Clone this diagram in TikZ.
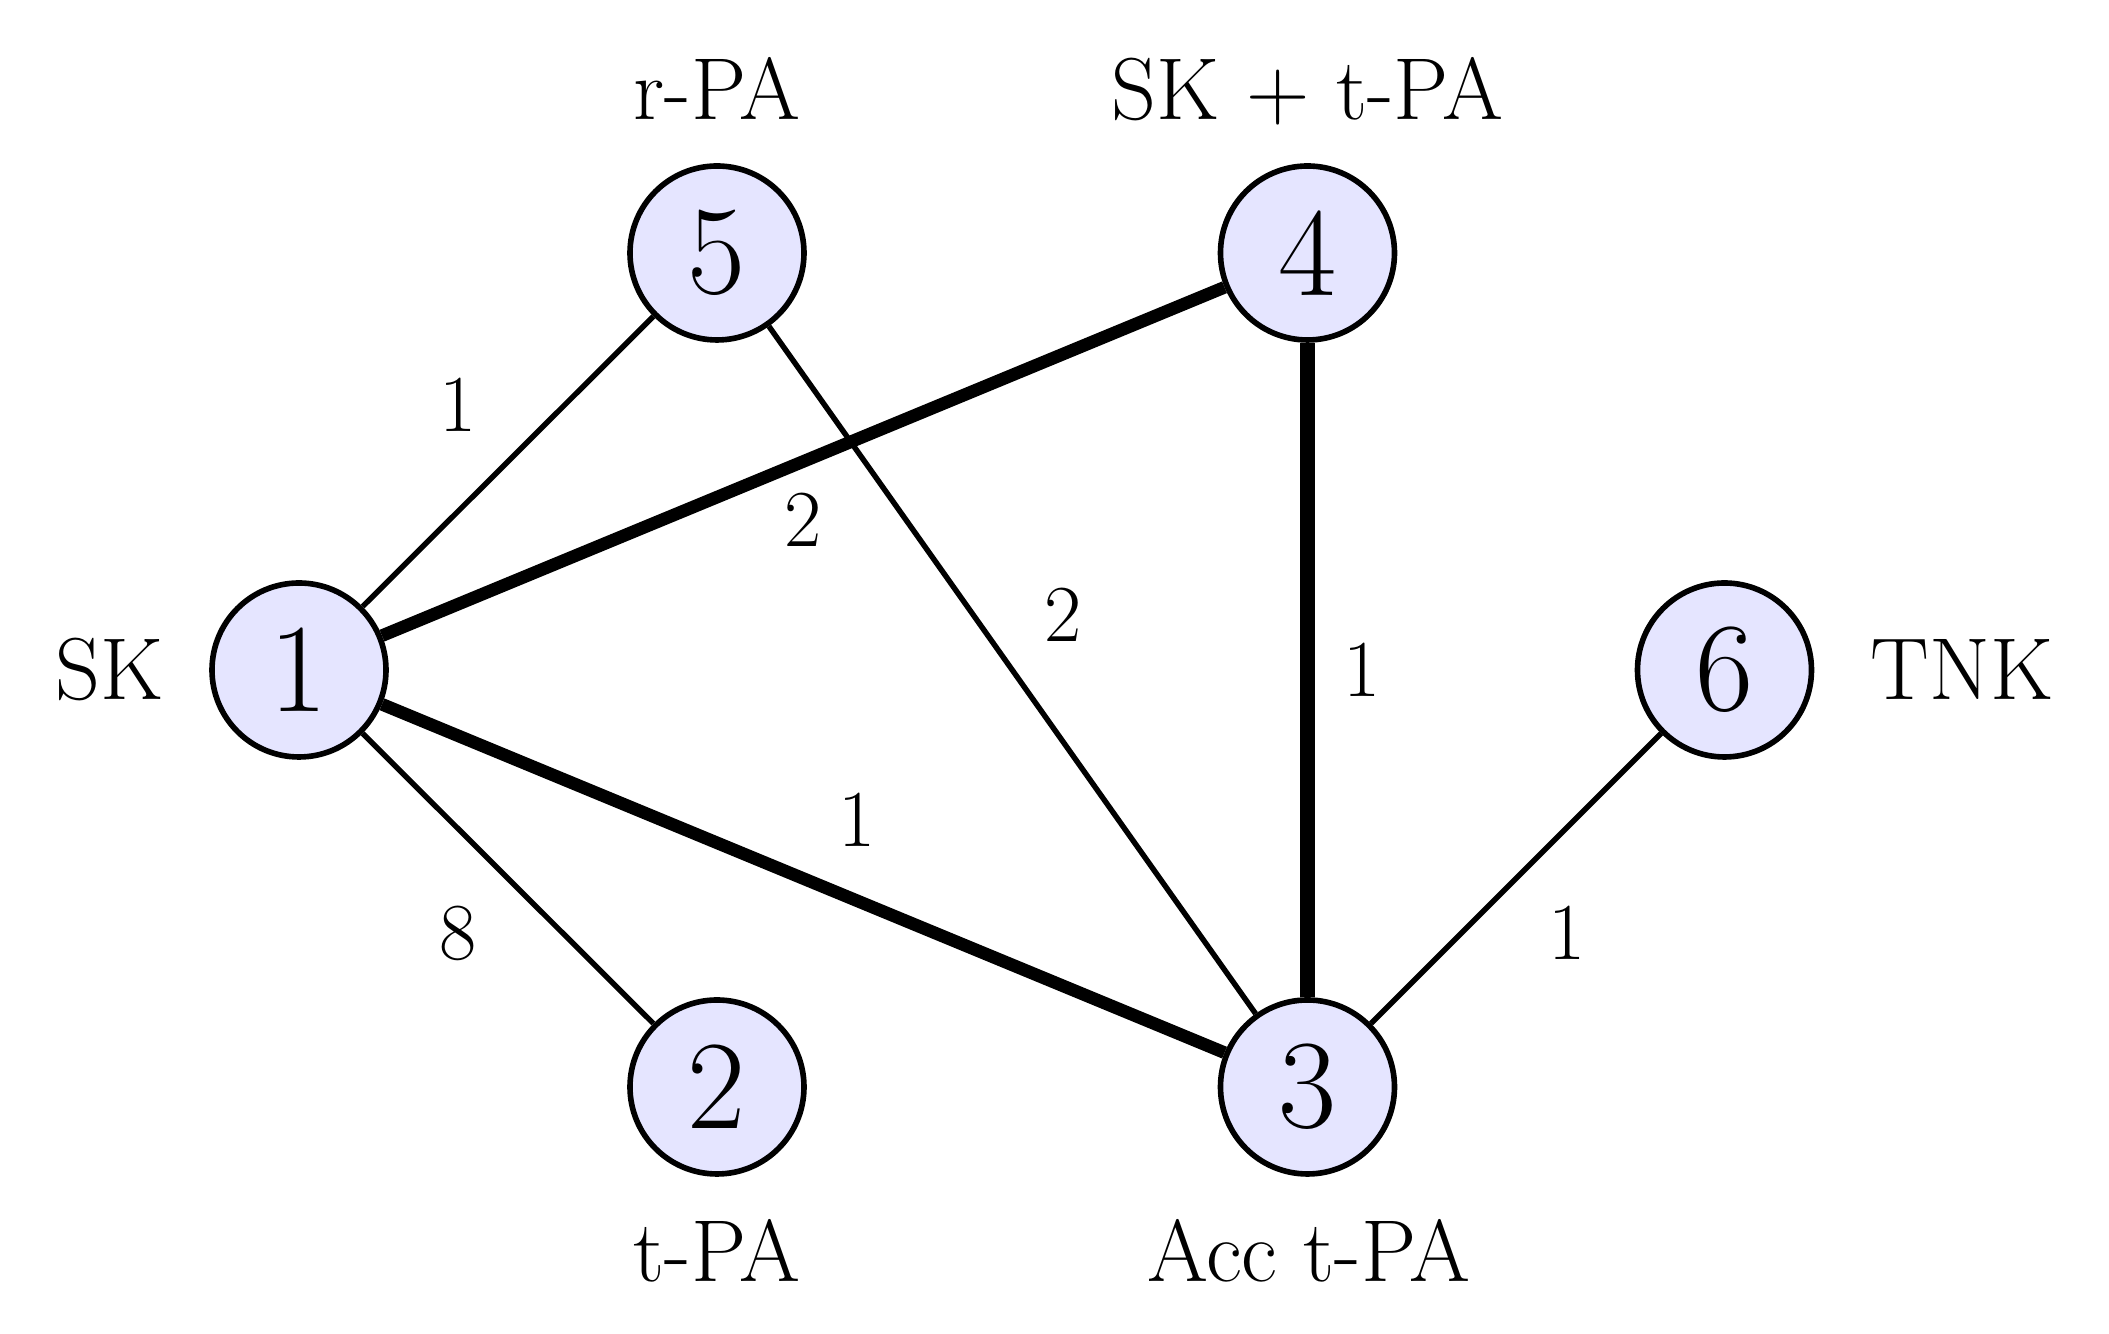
\documentclass[tikz,border=0pt]{standalone}
\usepackage{tikz}
\begin{document}
\begin{tikzpicture}[x=1cm,y=1cm,
  trt/.style={circle, draw=black, line width=1.6pt, fill=blue!10,
    minimum size=1.74cm, inner sep=0pt, font=\fontsize{36}{40}\selectfont},
  trtname/.style={anchor=base, inner sep=0pt, font=\fontsize{25}{30}\selectfont},
  nstudies/.style={inner sep=0pt, font=\fontsize{23}{27}\selectfont},
  lightedge/.style={line width=1.55pt},
  heavyedge/.style={line width=3.6pt},
  heaviestedge/.style={line width=4.1pt}]
\useasboundingbox (0,0) rectangle (21.09,13.34);

% treatments
\node[trt] (n1) at (2.99,6.64) {1};
\node[trt] (n5) at (7.17,10.81) {5};
\node[trt] (n4) at (13.075,10.81) {4};
\node[trt] (n2) at (7.17,2.47) {2};
\node[trt] (n3) at (13.075,2.47) {3};
\node[trt] (n6) at (17.245,6.64) {6};

% treatment names
\node[trtname] (t1) at (1.10,6.34) {SK};
\node[trtname] (t5) at (7.17,12.14) {r-PA};
\node[trtname] (t4) at (13.075,12.14) {SK + t-PA};
\node[trtname] (t2) at (7.17,0.52) {t-PA};
\node[trtname] (t3) at (13.09,0.52) {Acc t-PA};
\node[trtname] (t6) at (19.62,6.34) {TNK};

% comparisons
\draw[lightedge] (n1) -- (n5);
\draw[lightedge] (n1) -- (n2);
\draw[lightedge] (n5) -- (n3);
\draw[lightedge] (n3) -- (n6);
\draw[heavyedge] (n1) -- (n4);
\draw[heavyedge] (n1) -- (n3);
\draw[heaviestedge] (n4) -- (n3);

% number of studies per comparison
\node[nstudies] (w15) at (4.58,9.29) {1};
\node[nstudies] (w14) at (8.03,8.14) {2};
\node[nstudies] (w53) at (10.63,7.19) {2};
\node[nstudies] (w43) at (13.62,6.64) {1};
\node[nstudies] (w13) at (8.57,5.14) {1};
\node[nstudies] (w12) at (4.58,4.01) {8};
\node[nstudies] (w36) at (15.67,4.01) {1};
\end{tikzpicture}
\end{document}
